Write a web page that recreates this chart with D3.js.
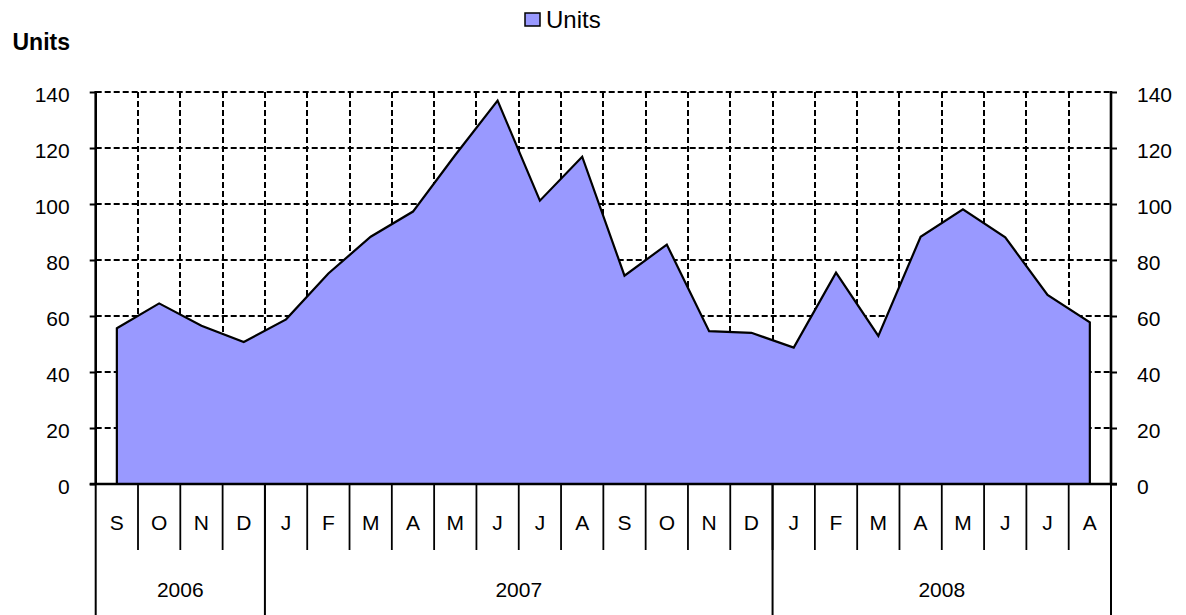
<!DOCTYPE html>
<html lang="en">
<head>
    <meta charset="UTF-8">
    <title>Units</title>
    <script src="https://cdn.jsdelivr.net/npm/d3@7/dist/d3.min.js"></script>
    <style>
        body { margin: 0; background: #fff; }
        svg { display: block; font-family: "Liberation Sans", Arial, sans-serif; }
    </style>
</head>
<body>
    <div class="chart"></div>
</body>
<script>
    // monthly units, Sep 2006 - Aug 2008
    const months = ['S','O','N','D','J','F','M','A','M','J','J','A','S','O','N','D','J','F','M','A','M','J','J','A']
    const units = [55.6, 64.5, 56.5, 50.7, 58.8, 75.2, 88.3, 97.3, 117.5, 136.9, 101.2, 116.9,
                   74.4, 85.5, 54.6, 54.0, 48.7, 75.5, 52.9, 88.3, 98.1, 88.1, 67.5, 57.7]
    const years = ['2006', '2007', '2008']
    const yearMonths = [4, 12, 8]
    const yTicks = [0, 20, 40, 60, 80, 100, 120, 140]

    const width = 1186
    const height = 615
    const plot = { left: 95.7, right: 1111, top: 92, bottom: 484 }

    const svg = d3.select('.chart')
        .append('svg')
        .attr('width', width)
        .attr('height', height)

    const x = d3.scaleBand().domain(d3.range(months.length)).range([plot.left, plot.right]).padding(0)
    const y = d3.scaleLinear().domain([0, 140]).range([plot.bottom, plot.top])
    const cx = (i) => x(i) + x.bandwidth() / 2

    // gridlines
    const grid = svg.append('g')
        .attr('stroke', '#000')
        .attr('stroke-width', 2)
        .attr('stroke-dasharray', '6,3')
    grid.selectAll('.hgrid')
        .data(yTicks.filter(d => d > 0))
        .enter().append('line')
        .attr('class', 'hgrid')
        .attr('x1', plot.left).attr('x2', plot.right)
        .attr('y1', d => Math.round(y(d))).attr('y2', d => Math.round(y(d)))
    grid.selectAll('.vgrid')
        .data(d3.range(1, months.length))
        .enter().append('line')
        .attr('class', 'vgrid')
        .attr('x1', d => Math.round(x(d))).attr('x2', d => Math.round(x(d)))
        .attr('y1', plot.top).attr('y2', plot.bottom)

    // area
    const area = d3.area()
        .x((d, i) => cx(i))
        .y0(y(0))
        .y1(d => y(d))
    svg.append('path')
        .datum(units)
        .attr('d', area)
        .attr('fill', '#9999ff')
        .attr('stroke', '#000')
        .attr('stroke-width', 2.2)
        .attr('stroke-linejoin', 'miter')

    // y axes
    function styleAxis(g) {
        g.select('.domain').remove()
        g.selectAll('.tick line').attr('stroke', '#000').attr('stroke-width', 2)
        g.selectAll('.tick text')
            .attr('fill', '#000')
            .attr('font-size', 21)
            .attr('font-family', '"Liberation Sans", Arial, sans-serif')
            .attr('dy', '0.45em')
    }
    svg.append('g')
        .attr('transform', `translate(${plot.left},0)`)
        .call(d3.axisLeft(y).tickValues(yTicks).tickSize(6).tickPadding(20))
        .call(styleAxis)
    svg.append('g')
        .attr('transform', `translate(${plot.right},0)`)
        .call(d3.axisRight(y).tickValues(yTicks).tickSize(6).tickPadding(20))
        .call(styleAxis)

    // axis lines
    const axes = svg.append('g').attr('stroke', '#000').attr('stroke-width', 2.6)
    axes.append('line').attr('x1', plot.left).attr('x2', plot.left).attr('y1', plot.top - 1).attr('y2', plot.bottom)
    axes.append('line').attr('x1', plot.right).attr('x2', plot.right).attr('y1', plot.top - 1).attr('y2', plot.bottom)
    axes.append('line').attr('x1', plot.left - 6).attr('x2', plot.right + 6).attr('y1', plot.bottom).attr('y2', plot.bottom)

    // month row
    const monthRow = 550
    svg.append('g').selectAll('line')
        .data(d3.range(1, months.length))
        .enter().append('line')
        .attr('x1', d => x(d)).attr('x2', d => x(d))
        .attr('y1', plot.bottom).attr('y2', monthRow)
        .attr('stroke', '#000').attr('stroke-width', 1.8)
    svg.append('g').selectAll('text')
        .data(months)
        .enter().append('text')
        .attr('x', (d, i) => cx(i))
        .attr('y', 530)
        .attr('text-anchor', 'middle')
        .attr('font-size', 21)
        .text(d => d)

    // year row
    const yearEdges = [0]
    yearMonths.forEach(n => yearEdges.push(yearEdges[yearEdges.length - 1] + n))
    const edgeX = (i) => i >= months.length ? plot.right : x(i)
    svg.append('g').selectAll('line')
        .data(yearEdges)
        .enter().append('line')
        .attr('x1', d => edgeX(d)).attr('x2', d => edgeX(d))
        .attr('y1', plot.bottom).attr('y2', height)
        .attr('stroke', '#000').attr('stroke-width', 2)
    svg.append('g').selectAll('text')
        .data(years)
        .enter().append('text')
        .attr('x', (d, i) => (edgeX(yearEdges[i]) + edgeX(yearEdges[i + 1])) / 2)
        .attr('y', 597)
        .attr('text-anchor', 'middle')
        .attr('font-size', 21)
        .text(d => d)

    // axis title
    svg.append('text')
        .attr('x', 70)
        .attr('y', 50)
        .attr('text-anchor', 'end')
        .attr('font-size', 23)
        .attr('font-weight', 'bold')
        .text('Units')

    // legend
    const legend = svg.append('g').attr('transform', 'translate(525,13)')
    legend.append('rect')
        .attr('width', 15).attr('height', 13)
        .attr('fill', '#9999ff')
        .attr('stroke', '#000').attr('stroke-width', 1.5)
    legend.append('text')
        .attr('x', 21).attr('y', 15)
        .attr('font-size', 24)
        .text('Units')
</script>
</html>
